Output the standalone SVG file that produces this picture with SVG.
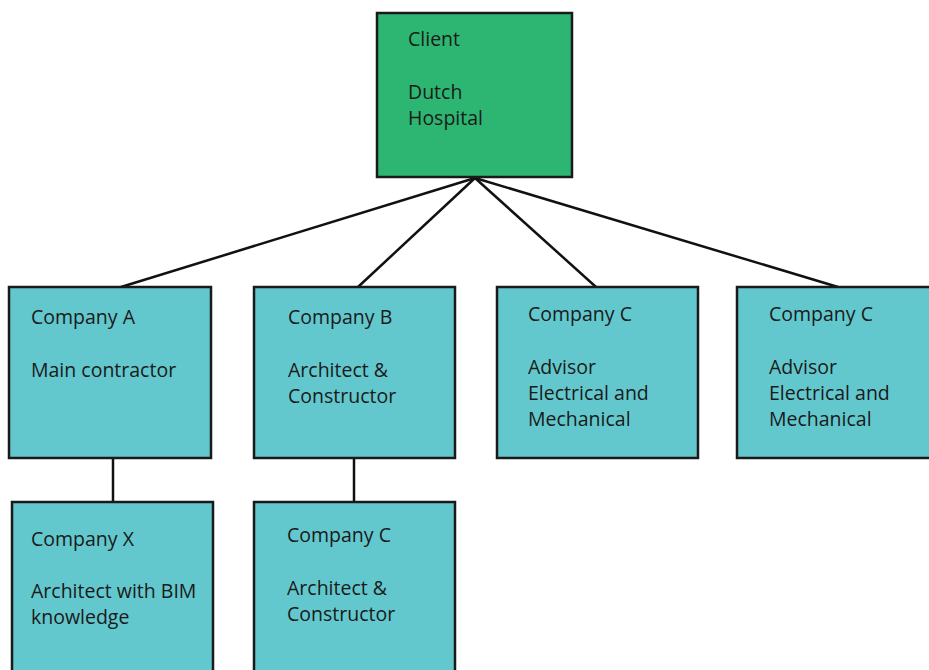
<svg xmlns="http://www.w3.org/2000/svg" width="929" height="670" viewBox="0 0 929 670">
<style>
.box{stroke:#1a1a1a;stroke-width:2.5}
.green{fill:#2db672}
.teal{fill:#62c8cd}
.t{font-family:"Open Sans","Noto Sans",sans-serif;font-size:19.5px;fill:#1a1a1a}
.conn line{stroke:#111;stroke-width:2.5}
</style>
<rect width="929" height="670" fill="#fff"/>
<g class="conn">
<line x1="475" y1="178" x2="121" y2="287"/>
<line x1="475" y1="178" x2="358" y2="287"/>
<line x1="475" y1="178" x2="596" y2="287"/>
<line x1="475" y1="178" x2="838" y2="287"/>
<line x1="113" y1="458" x2="113" y2="502"/>
<line x1="354" y1="458" x2="354" y2="502"/>
</g>
<g id="client">
<rect class="box green" x="377" y="13" width="195" height="164"/>
<text class="t" x="408" y="46">Client</text>
<text class="t" x="408" y="99">Dutch</text>
<text class="t" x="408" y="125">Hospital</text>
</g>
<g id="companyA">
<rect class="box teal" x="9" y="287" width="202" height="171"/>
<text class="t" x="31" y="324">Company A</text>
<text class="t" x="31" y="377">Main contractor</text>
</g>
<g id="companyB">
<rect class="box teal" x="254" y="287" width="201" height="171"/>
<text class="t" x="288" y="324">Company B</text>
<text class="t" x="288" y="377">Architect &amp;</text>
<text class="t" x="288" y="403">Constructor</text>
</g>
<g id="companyC1">
<rect class="box teal" x="497" y="287" width="201" height="171"/>
<text class="t" x="528" y="321">Company C</text>
<text class="t" x="528" y="374">Advisor</text>
<text class="t" x="528" y="400">Electrical and</text>
<text class="t" x="528" y="426">Mechanical</text>
</g>
<g id="companyC2">
<rect class="box teal" x="737" y="287" width="200" height="171"/>
<text class="t" x="769" y="321">Company C</text>
<text class="t" x="769" y="374">Advisor</text>
<text class="t" x="769" y="400">Electrical and</text>
<text class="t" x="769" y="426">Mechanical</text>
</g>
<g id="companyX">
<rect class="box teal" x="12" y="502" width="201" height="180"/>
<text class="t" x="31" y="546">Company X</text>
<text class="t" x="31" y="598">Architect with BIM</text>
<text class="t" x="31" y="624">knowledge</text>
</g>
<g id="companyC3">
<rect class="box teal" x="254" y="502" width="201" height="180"/>
<text class="t" x="287" y="542">Company C</text>
<text class="t" x="287" y="595">Architect &amp;</text>
<text class="t" x="287" y="621">Constructor</text>
</g>
</svg>
